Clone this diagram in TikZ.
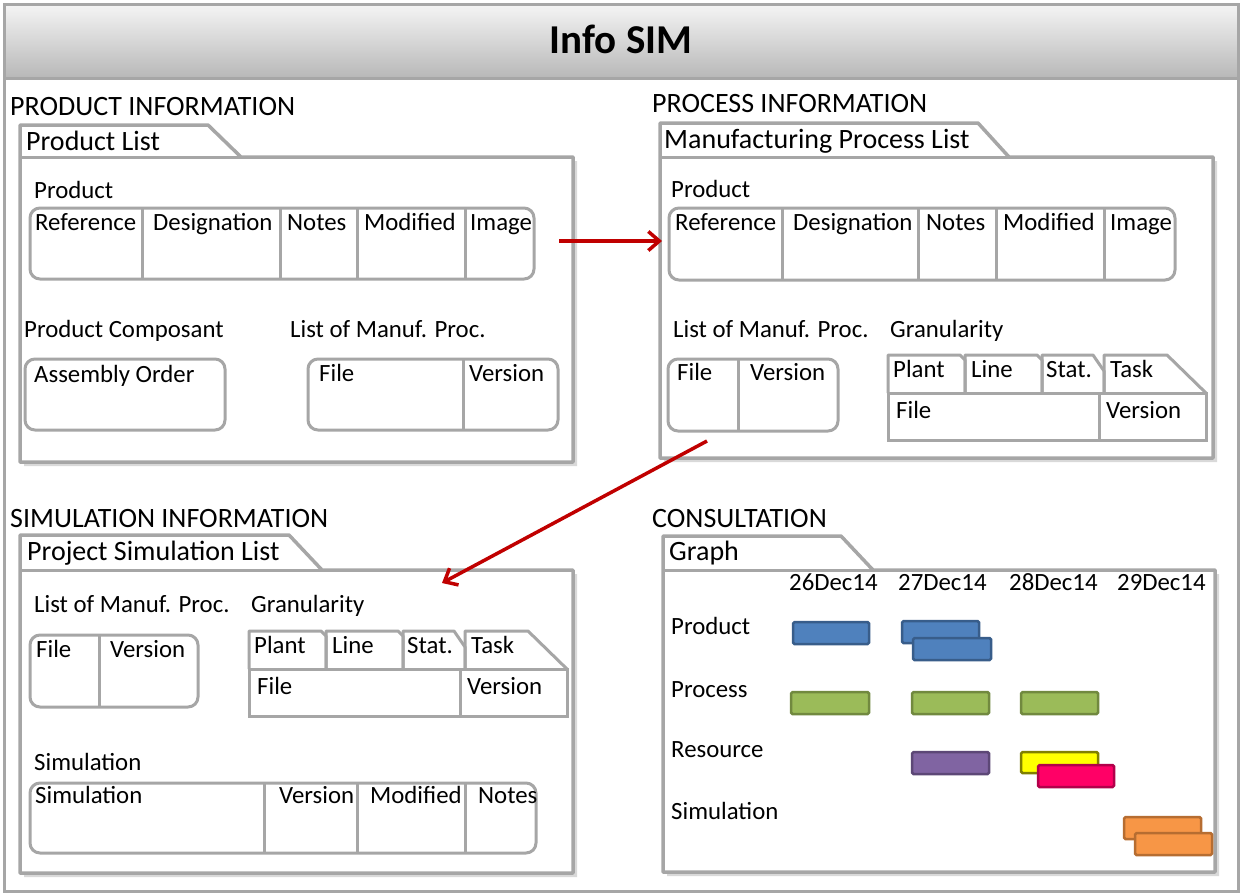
\documentclass[tikz,border=0pt]{standalone}
\usepackage{fontspec}
\setmainfont{Carlito}
\usetikzlibrary{arrows.meta, shadows}
\definecolor{boxgray}{HTML}{A6A6A6}
\definecolor{linkred}{HTML}{C00000}
\definecolor{blueA}{HTML}{4F81BD}
\definecolor{blueB}{HTML}{385D8A}
\definecolor{greenA}{HTML}{9BBB59}
\definecolor{greenB}{HTML}{71893F}
\definecolor{purpleA}{HTML}{8064A2}
\definecolor{purpleB}{HTML}{5C4776}
\definecolor{yellowA}{HTML}{FFFF00}
\definecolor{yellowB}{HTML}{7F7F00}
\definecolor{pinkA}{HTML}{FF0066}
\definecolor{pinkB}{HTML}{B2004A}
\definecolor{orangeA}{HTML}{F79646}
\definecolor{orangeB}{HTML}{B66D31}
\begin{document}
\begin{tikzpicture}[x=1pt, y=-1pt,
    every node/.style={anchor=base west, inner sep=0pt, font=\fontsize{24.8}{29}\selectfont},
    head/.style={font=\fontsize{28}{33}\selectfont},
    folder/.style={draw=boxgray, line width=3.5pt, fill=white, line join=round,
        drop shadow={shadow xshift=4pt, shadow yshift=-4pt, opacity=0.3}},
    cell/.style={draw=boxgray, line width=3pt},
    bar/.style={line width=2.5pt, rounded corners=1.5pt},
    link/.style={draw=linkred, line width=3.5pt, -{Straight Barb[length=11pt, width=19pt]}}]
       % \draw[help lines, step=50] (0, 0) grid (1242, 895);
       \useasboundingbox (0, 0) rectangle (1242, 895);
       \shade [top color=black!4, bottom color=black!28] (4, 4) rectangle (1238, 78);
       \draw [cell] (4, 78) -- (1238, 78);
       \draw [cell] (4, 4) rectangle (1238, 891);
       \node [anchor=base, font=\fontsize{41}{41}\selectfont\bfseries] (title) at (621, 53) {Info SIM};

       % product information
       \draw [folder] (20, 157) -- (20, 125) -- (208, 125) -- (241, 157) -- (573, 157) -- (573, 462) -- (20, 462) -- cycle;
       \draw [cell] (20, 157) -- (241, 157);
       \node [head] (prodinfo) at (10, 115) {PRODUCT INFORMATION};
       \node [head] (prodlist) at (26, 150) {Product List};
       \node (p-prod) at (34, 198) {Product};
       \draw [cell, rounded corners=10pt] (30, 208) rectangle (534, 279);
       \foreach \x in {142, 280, 357, 465} \draw [cell] (\x, 208) -- (\x, 279);
       \node (p-ref) at (35, 230) {Reference};
       \node (p-des) at (153, 230) {Designation};
       \node (p-not) at (287, 230) {Notes};
       \node (p-mod) at (364, 230) {Modified};
       \node (p-img) at (470, 230) {Image};
       \node (p-comp) at (24, 337) {Product Composant};
       \node (p-list) at (290, 337) {List of Manuf. Proc.};
       \draw [cell, rounded corners=10pt] (25, 359) rectangle (225, 430);
       \node (p-asm) at (34, 382) {Assembly Order};
       \draw [cell, rounded corners=10pt] (308, 359) rectangle (558, 430);
       \draw [cell] (463, 359) -- (463, 430);
       \node (p-file) at (319, 381) {File};
       \node (p-ver) at (469, 381) {Version};

       % process information
       \draw [folder] (660, 157) -- (660, 123) -- (978, 123) -- (1009, 157) -- (1213, 157) -- (1213, 458) -- (660, 458) -- cycle;
       \draw [cell] (660, 157) -- (1009, 157);
       \node [head] (procinfo) at (652, 112) {PROCESS INFORMATION};
       \node [head] (proclist) at (664, 148) {Manufacturing Process List};
       \node (m-prod) at (671, 197) {Product};
       \draw [cell, rounded corners=10pt] (669, 208) rectangle (1175, 280);
       \foreach \x in {782, 918, 996, 1104} \draw [cell] (\x, 208) -- (\x, 280);
       \node (m-ref) at (675, 230) {Reference};
       \node (m-des) at (793, 230) {Designation};
       \node (m-not) at (926, 230) {Notes};
       \node (m-mod) at (1003, 230) {Modified};
       \node (m-img) at (1110, 230) {Image};
       \node (m-list) at (673, 337) {List of Manuf. Proc.};
       \node (m-gran) at (890, 337) {Granularity};
       \draw [cell, rounded corners=10pt] (668, 359) rectangle (838, 431);
       \draw [cell] (738, 359) -- (738, 431);
       \node (m-file) at (677, 380) {File};
       \node (m-ver) at (750, 380) {Version};

       % simulation information
       \draw [folder] (20, 570) -- (20, 535) -- (289, 535) -- (322, 570) -- (573, 570) -- (573, 873) -- (20, 873) -- cycle;
       \draw [cell] (20, 570) -- (322, 570);
       \node [head] (siminfo) at (10, 527) {SIMULATION INFORMATION};
       \node [head] (simlist) at (27, 560) {Project Simulation List};
       \node (s-list) at (34, 612) {List of Manuf. Proc.};
       \node (s-gran) at (251, 612) {Granularity};
       \draw [cell, rounded corners=10pt] (30, 635) rectangle (198, 707);
       \draw [cell] (99, 635) -- (99, 707);
       \node (s-file) at (36, 657) {File};
       \node (s-ver) at (110, 657) {Version};
       \node (s-sim) at (34, 770) {Simulation};
       \draw [cell, rounded corners=10pt] (30, 783) rectangle (536, 853);
       \foreach \x in {264, 357, 465} \draw [cell] (\x, 783) -- (\x, 853);
       \node (s-simc) at (35, 803) {Simulation};
       \node (s-verc) at (279, 803) {Version};
       \node (s-mod) at (370, 803) {Modified};
       \node (s-not) at (478, 803) {Notes};

       % granularity tables
       \foreach \gx/\gy/\gn in {888/355/m, 249/631/s} {
         \begin{scope}[shift={(\gx, \gy)}]
           \draw [cell, line join=round] (0, 38) -- (0, 0) -- (72, 0) -- (77, 5) -- (77, 38);
           \draw [cell, line join=round] (77, 38) -- (77, 0) -- (149, 0) -- (154, 5) -- (154, 38);
           \draw [cell, line join=round] (154, 38) -- (154, 0) -- (205, 0) -- (216, 16) -- (216, 38);
           \draw [cell, line join=round] (216, 38) -- (216, 0) -- (279, 0) -- (318, 38);
           \draw [cell] (0, 38) rectangle (318, 85);
           \draw [cell] (211, 38) -- (211, 85);
           \node (\gn-plant) at (5, 22) {Plant};
           \node (\gn-line) at (83, 22) {Line};
           \node (\gn-stat) at (158, 22) {Stat.};
           \node (\gn-task) at (222, 22) {Task};
           \node (\gn-gfile) at (8, 63) {File};
           \node (\gn-gver) at (218, 63) {Version};
         \end{scope}
       }

       % consultation
       \draw [folder] (663, 570) -- (663, 536) -- (841, 536) -- (873, 570) -- (1215, 570) -- (1215, 872) -- (663, 872) -- cycle;
       \draw [cell] (663, 570) -- (873, 570);
       \node [head] (consult) at (652, 527) {CONSULTATION};
       \node [head] (graph) at (669, 560) {Graph};
       \node (d26) at (789, 590) {26Dec14};
       \node (d27) at (898, 590) {27Dec14};
       \node (d28) at (1009, 590) {28Dec14};
       \node (d29) at (1117, 590) {29Dec14};
       \node (g-prod) at (671, 634) {Product};
       \node (g-proc) at (671, 697) {Process};
       \node (g-res) at (671, 757) {Resource};
       \node (g-sim) at (671, 819) {Simulation};
       \draw [bar, fill=blueA, draw=blueB] (793, 622) rectangle (869, 644);
       \draw [bar, fill=blueA, draw=blueB] (902, 621) rectangle (979, 643);
       \draw [bar, fill=blueA, draw=blueB] (913, 638) rectangle (991, 660);
       \draw [bar, fill=greenA, draw=greenB] (791, 692) rectangle (869, 714);
       \draw [bar, fill=greenA, draw=greenB] (912, 692) rectangle (989, 714);
       \draw [bar, fill=greenA, draw=greenB] (1021, 692) rectangle (1098, 714);
       \draw [bar, fill=purpleA, draw=purpleB] (912, 752) rectangle (989, 774);
       \draw [bar, fill=yellowA, draw=yellowB] (1021, 752) rectangle (1098, 773);
       \draw [bar, fill=pinkA, draw=pinkB] (1038, 765) rectangle (1114, 787);
       \draw [bar, fill=orangeA, draw=orangeB] (1124, 817) rectangle (1201, 839);
       \draw [bar, fill=orangeA, draw=orangeB] (1135, 833) rectangle (1212, 855);

       % links
       \coordinate (l1s) at (559, 241);
       \coordinate (l1e) at (662, 241);
       \coordinate (l2s) at (707, 441);
       \coordinate (l2e) at (442, 583);
       \draw [link] (l1s) -- (l1e);
       \draw [link] (l2s) -- (l2e);
   \end{tikzpicture}
\end{document}
